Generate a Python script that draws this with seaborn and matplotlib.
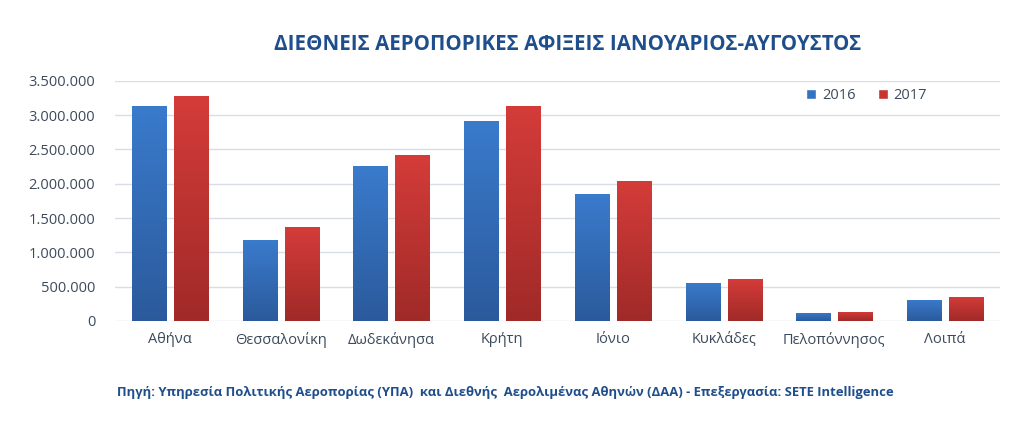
import numpy as np
import pandas as pd
import matplotlib
matplotlib.use("Agg")
import matplotlib.pyplot as plt
import seaborn as sns
from matplotlib.colors import LinearSegmentedColormap
from matplotlib.ticker import FuncFormatter, MultipleLocator

categories = ["Αθήνα", "Θεσσαλονίκη", "Δωδεκάνησα", "Κρήτη", "Ιόνιο",
              "Κυκλάδες", "Πελοπόννησος", "Λοιπά"]
values_2016 = [3135000, 1180000, 2260000, 2920000, 1850000, 560000, 120000, 310000]
values_2017 = [3280000, 1370000, 2420000, 3135000, 2040000, 610000, 135000, 355000]
years = ["2016", "2017"]

title = "ΔΙΕΘΝΕΙΣ ΑΕΡΟΠΟΡΙΚΕΣ ΑΦΙΞΕΙΣ ΙΑΝΟΥΑΡΙΟΣ-ΑΥΓΟΥΣΤΟΣ"
source = ("Πηγή: Υπηρεσία Πολιτικής Αεροπορίας (ΥΠΑ)  και Διεθνής  Αερολιμένας "
          "Αθηνών (ΔΑΑ) - Επεξεργασία: SETE Intelligence")

df = pd.DataFrame({
    "region": categories * 2,
    "year": [years[0]] * len(categories) + [years[1]] * len(categories),
    "arrivals": values_2016 + values_2017,
})

sns.set_theme(style="white")
plt.rcParams["font.family"] = ["Open Sans", "DejaVu Sans"]

fig = plt.figure(figsize=(10.24, 4.47), dpi=100)
ax = fig.add_axes([0.112, 0.282, 0.865, 0.537])

palette = {"2016": "#3473c2", "2017": "#c83432"}
sns.barplot(data=df, x="region", y="arrivals", hue="year", palette=palette,
            width=0.76, gap=0.19, ax=ax, legend=True, saturation=1)

ax.set_ylim(0, 3500000)
ax.yaxis.set_major_locator(MultipleLocator(500000))
ax.yaxis.set_major_formatter(FuncFormatter(lambda v, p: f"{int(v):,}".replace(",", ".")))
ax.grid(axis="y", color="#d9dde5", linewidth=1)
ax.set_axisbelow(True)
for s in ax.spines.values():
    s.set_visible(False)
ax.set_xlabel("")
ax.set_ylabel("")
ax.tick_params(axis="y", labelsize=10.5, colors="#3d4a5c", length=0, pad=14)
ax.tick_params(axis="x", labelsize=10.5, colors="#3d4a5c", length=0, pad=8)

# gradient fill for bars
cmaps = {
    "#3473c2": LinearSegmentedColormap.from_list("b", ["#2b5a9c", "#3a7bcc"]),
    "#c83432": LinearSegmentedColormap.from_list("r", ["#a02a28", "#d43c39"]),
}
grad = np.linspace(0, 1, 256).reshape(-1, 1)
for patch in list(ax.patches):
    w = patch.get_width()
    h = patch.get_height()
    if h <= 0 or w <= 0:
        continue
    fc = matplotlib.colors.to_hex(patch.get_facecolor())
    cm = cmaps.get(fc)
    if cm is None:
        continue
    x0, y0 = patch.get_x(), patch.get_y()
    im = ax.imshow(grad, cmap=cm, origin="lower", aspect="auto",
                   extent=[x0, x0 + w, y0, y0 + h], zorder=patch.get_zorder() + 0.1)
    im.set_clip_path(patch)
    patch.set_edgecolor("none")
ax.set_xlim(-0.5, len(categories) - 0.5)
ax.set_ylim(0, 3500000)

leg = ax.legend(loc="upper right", bbox_to_anchor=(0.932, 1.025), ncol=2, frameon=False,
                fontsize=10.5, handlelength=0.7, handleheight=0.7, columnspacing=1.5,
                handletextpad=0.4)
for t in leg.get_texts():
    t.set_color("#3d4a5c")

fig.text(0.554, 0.9, title, ha="center", va="center", fontsize=14.8,
         fontweight="bold", color="#1f4e8c")
fig.text(0.114, 0.122, source, ha="left", va="center", fontsize=9.4,
         fontweight="bold", color="#1f4e8c")

fig.savefig("out.png", dpi=100, facecolor="white")
